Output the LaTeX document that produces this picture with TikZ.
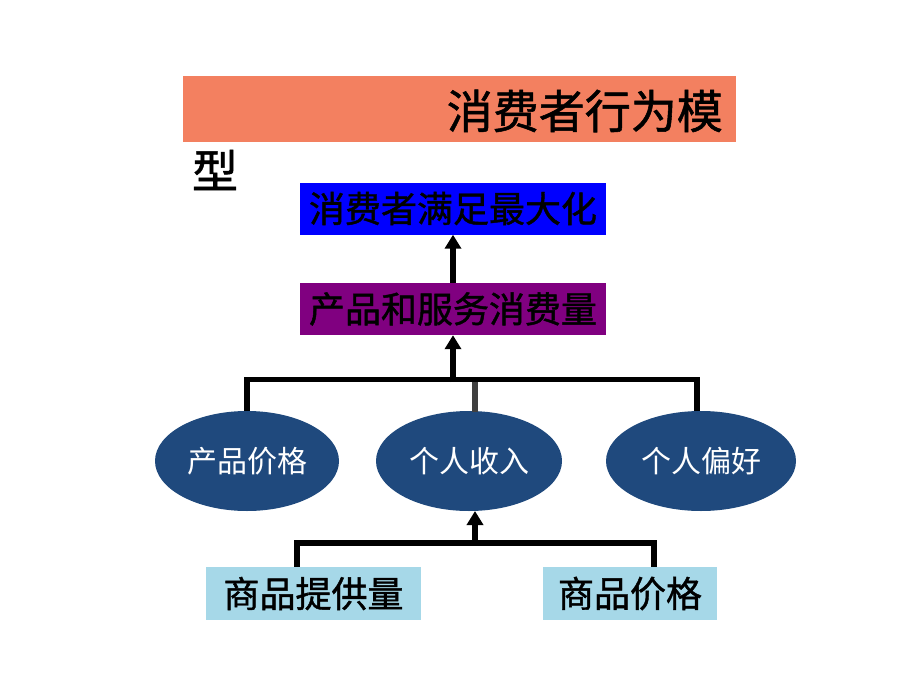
\documentclass[tikz,border=0pt]{standalone}
\usepackage{fontspec}
\setmainfont{Noto Sans CJK SC}
\newfontfamily\heavycjk[FakeBold=1.2]{Noto Sans CJK SC}
\usetikzlibrary{arrows.meta,shapes.geometric}
\definecolor{titleor}{RGB}{243,128,96}
\definecolor{ellblue}{RGB}{31,73,125}
\definecolor{lightb}{RGB}{166,216,232}
\definecolor{midgray}{RGB}{64,64,64}
\definecolor{purp}{RGB}{128,0,128}
\tikzset{
  rbox/.style={draw=none, inner sep=0pt, minimum width=306pt, minimum height=52pt, font=\heavycjk\fontsize{36}{38}\selectfont},
  ell/.style={ellipse, fill=ellblue, inner sep=0pt, text=white, font=\fontsize{30}{32}\selectfont},
  bbox/.style={fill=lightb, inner sep=0pt, minimum height=53pt, font=\heavycjk\fontsize{36}{38}\selectfont},
  conn/.style={line width=5.5pt},
  arr/.style={line width=5.5pt, -{Triangle[width=16pt,length=14pt]}}
}
\begin{document}
\begin{tikzpicture}[x=1pt,y=-1pt]
\useasboundingbox (0,0) rectangle (920,690);
% title
\fill[titleor] (183,76) rectangle (736,142);
\node[anchor=east, inner sep=0pt, font=\heavycjk\fontsize{46}{48}\selectfont] (t1) at (723,111) {消费者行为模};
\node[inner sep=0pt, font=\heavycjk\fontsize{46}{48}\selectfont] (t2) at (215,170) {型};
% boxes
\node[rbox, fill=blue] (goal) at (453,208.5) {消费者满足最大化};
\node[rbox, fill=purp] (cons) at (453,309) {产品和服务消费量};
% ellipses
\node[ell, minimum width=184pt, minimum height=100pt] (e1) at (247,461) {产品价格};
\node[ell, minimum width=186pt, minimum height=100pt] (e2) at (469,461) {个人收入};
\node[ell, minimum width=190pt, minimum height=100pt] (e3) at (701,461) {个人偏好};
% bottom boxes
\node[bbox, minimum width=215pt] (b1) at (313.5,593.5) {商品提供量};
\node[bbox, minimum width=174pt] (b2) at (630,593.5) {商品价格};
% coordinates
\coordinate (hl) at (247,382);
\coordinate (hr) at (697,382);
\coordinate (hm) at (453,382);
\coordinate (bl) at (297,543);
\coordinate (br) at (654,543);
\coordinate (bm) at (475,543);
% connectors
\draw[arr] (cons.north) -- (goal.south);
\draw[arr] (hm) -- (cons.south);
\draw[conn] (hl|-e1.north) -- ([yshift=2.75pt]hl) -- ([yshift=2.75pt]hr) -- (hr|-e3.north);
\draw[conn, midgray] (475,382) -- (475,412);
\draw[conn] (bl|-b1.north) -- (bl) -- (br) -- (br|-b2.north);
\draw[arr] (bm) -- (475,511);
\end{tikzpicture}
\end{document}
